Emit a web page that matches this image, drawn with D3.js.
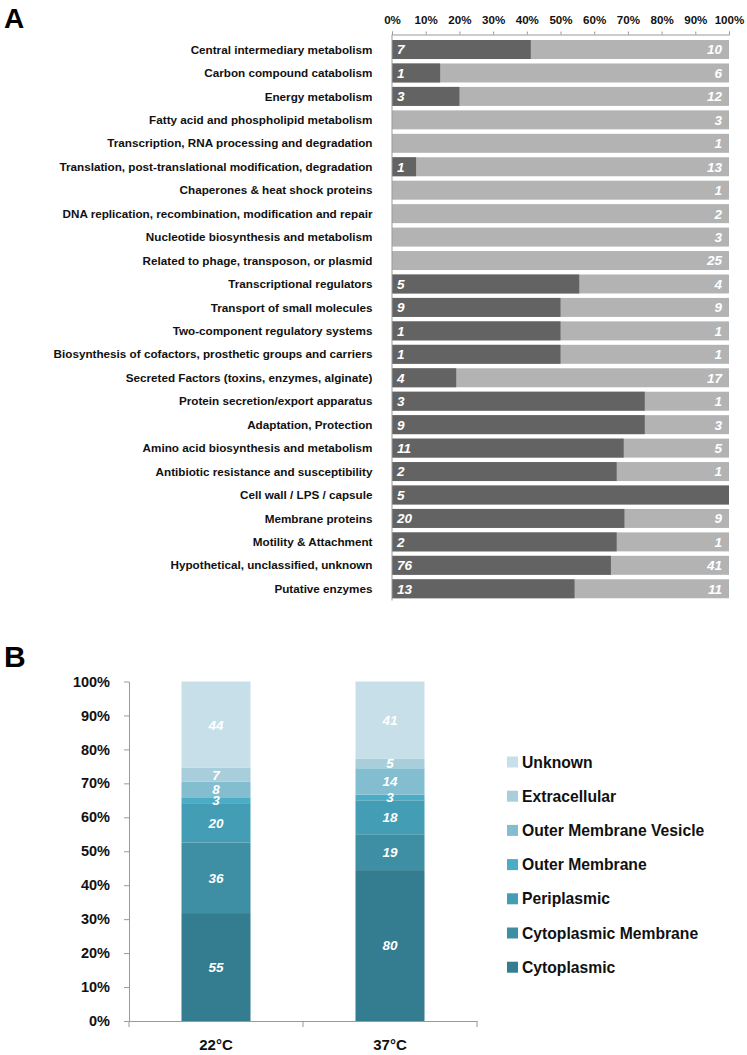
<!DOCTYPE html>
<html><head><meta charset="utf-8">
<script src="https://cdn.jsdelivr.net/npm/d3@7"></script>
<style>body{margin:0;background:#fff;} svg{display:block;font-family:Arial,"Liberation Sans",sans-serif;}</style>
</head><body>
<script>
// Panel A data
const categoriesA = ["Central intermediary metabolism","Carbon compound catabolism","Energy metabolism","Fatty acid and phospholipid metabolism","Transcription, RNA processing and degradation","Translation, post-translational modification, degradation","Chaperones & heat shock proteins","DNA replication, recombination, modification and repair","Nucleotide biosynthesis and metabolism","Related to phage, transposon, or plasmid","Transcriptional regulators","Transport of small molecules","Two-component regulatory systems","Biosynthesis of cofactors, prosthetic groups and carriers","Secreted Factors (toxins, enzymes, alginate)","Protein secretion/export apparatus","Adaptation, Protection","Amino acid biosynthesis and metabolism","Antibiotic resistance and susceptibility","Cell wall / LPS / capsule","Membrane proteins","Motility & Attachment","Hypothetical, unclassified, unknown","Putative enzymes"];
const darkCounts = [7,1,3,0,0,1,0,0,0,0,5,9,1,1,4,3,9,11,2,5,20,2,76,13];
const lightCounts = [10,6,12,3,1,13,1,2,3,25,4,9,1,1,17,1,3,5,1,0,9,1,41,11];
const ticksA = [0,0.1,0.2,0.3,0.4,0.5,0.6,0.7,0.8,0.9,1];

// Panel B data
const conditionsB = ["22°C","37°C"];
const locations = ["Cytoplasmic","Cytoplasmic Membrane","Periplasmic","Outer Membrane","Outer Membrane Vesicle","Extracellular","Unknown"];
const values22 = [55,36,20,3,8,7,44];
const values37 = [80,19,18,3,14,5,41];
const locColors = ["#347c8f","#3e8ea4","#439db4","#4aacc5","#82bdd0","#a8cedb","#c6dfe8"];
const ticksB = [0,0.1,0.2,0.3,0.4,0.5,0.6,0.7,0.8,0.9,1];

const svg = d3.select("body").append("svg").attr("width",747).attr("height",1055);

// ---------- Panel A ----------
svg.append("text").attr("x",4).attr("y",28).attr("font-size",28).attr("font-weight","bold").text("A");
const xA = d3.scaleLinear().domain([0,1]).range([392,729]);
const yA = d3.scaleBand().domain(categoriesA).range([37.8,600.5]).paddingInner(0.19).paddingOuter(0.095);
const rowsA = categoriesA.map((c,i)=>({c, d:darkCounts[i], l:lightCounts[i], t:darkCounts[i]+lightCounts[i]}));
const gA = svg.append("g");
gA.selectAll("rect.l").data(rowsA).join("rect").attr("class","l")
  .attr("x",xA(0)).attr("y",d=>yA(d.c)).attr("width",xA(1)-xA(0)).attr("height",yA.bandwidth()).attr("fill","#b3b3b3");
gA.selectAll("rect.d").data(rowsA).join("rect").attr("class","d")
  .attr("x",xA(0)).attr("y",d=>yA(d.c)).attr("width",d=>xA(d.d/d.t)-xA(0)).attr("height",yA.bandwidth()).attr("fill","#636363");
gA.selectAll("text.cat").data(rowsA).join("text").attr("class","cat")
  .attr("x",372.5).attr("y",d=>yA(d.c)+yA.bandwidth()/2).attr("dy","0.35em").attr("text-anchor","end")
  .attr("font-size",11.7).attr("font-weight","bold").attr("fill","#111").text(d=>d.c);
gA.selectAll("text.dv").data(rowsA.filter(d=>d.d>0)).join("text").attr("class","dv")
  .attr("x",xA(0)+5).attr("y",d=>yA(d.c)+yA.bandwidth()/2).attr("dy","0.36em")
  .attr("font-size",13.5).attr("font-weight","bold").attr("font-style","italic").attr("fill","#fff").text(d=>d.d);
gA.selectAll("text.lv").data(rowsA.filter(d=>d.l>0)).join("text").attr("class","lv")
  .attr("x",xA(1)-7).attr("y",d=>yA(d.c)+yA.bandwidth()/2).attr("dy","0.36em").attr("text-anchor","end")
  .attr("font-size",13.5).attr("font-weight","bold").attr("font-style","italic").attr("fill","#fff").text(d=>d.l);
// top axis
const axA = svg.append("g").attr("transform","translate(0,34.5)")
  .call(d3.axisTop(xA).tickValues(ticksA).tickFormat(d3.format(".0%")).tickSizeInner(3).tickSizeOuter(3).tickPadding(8));
axA.select(".domain").attr("stroke","#999");
axA.selectAll(".tick line").attr("stroke","#999");
axA.selectAll("text").attr("font-size",11.6).attr("font-weight","bold").attr("fill","#111").attr("font-family","Arial,'Liberation Sans',sans-serif");
svg.append("line").attr("x1",xA(0)).attr("x2",xA(0)).attr("y1",34.5).attr("y2",600.5).attr("stroke","#999");

// ---------- Panel B ----------
svg.append("text").attr("x",4).attr("y",667).attr("font-size",30).attr("font-weight","bold").text("B");
const xB = d3.scaleBand().domain(conditionsB).range([129,477]);
const yB = d3.scaleLinear().domain([0,1]).range([1021,681.5]);
const barW = 69;
const seriesB = [values22, values37];
conditionsB.forEach((cond,ci)=>{
  const vals = seriesB[ci];
  const total = d3.sum(vals);
  let cum = 0;
  const segs = vals.map((v,i)=>{const s={v,i,y0:cum/total,y1:(cum+v)/total}; cum+=v; return s;});
  const cx = xB(cond)+xB.bandwidth()/2;
  const g = svg.append("g");
  g.selectAll("rect").data(segs).join("rect")
    .attr("x",cx-barW/2).attr("width",barW)
    .attr("y",d=>yB(d.y1)).attr("height",d=>yB(d.y0)-yB(d.y1)).attr("fill",d=>locColors[d.i]);
  g.selectAll("text").data(segs).join("text")
    .attr("x",cx).attr("y",d=>yB((d.y0+d.y1)/2)).attr("dy","0.36em").attr("text-anchor","middle")
    .attr("font-size",13.5).attr("font-weight","bold").attr("font-style","italic").attr("fill","#fff").text(d=>d.v);
});
const ayB = svg.append("g").attr("transform","translate(129,0)")
  .call(d3.axisLeft(yB).tickValues(ticksB).tickFormat(d3.format(".0%")).tickSizeInner(5).tickSizeOuter(0).tickPadding(14));
ayB.select(".domain").attr("stroke","#999");
ayB.selectAll(".tick line").attr("stroke","#999");
ayB.selectAll("text").attr("font-size",14.5).attr("font-weight","bold").attr("fill","#111").attr("font-family","Arial,'Liberation Sans',sans-serif");
const axB = svg.append("g").attr("transform","translate(0,1021)")
  .call(d3.axisBottom(xB).tickSize(0).tickPadding(18));
axB.select(".domain").attr("stroke","#999");
axB.selectAll("text").attr("font-size",15).attr("font-weight","bold").attr("fill","#111").attr("font-family","Arial,'Liberation Sans',sans-serif");
// category separator ticks
svg.append("g").selectAll("line").data([xB.range()[0], xB(conditionsB[1]), xB.range()[1]]).join("line")
  .attr("x1",d=>d).attr("x2",d=>d).attr("y1",1021).attr("y2",1027).attr("stroke","#999");

// Legend
const legOrder = locations.map((l,i)=>i).reverse();
const leg = svg.append("g");
leg.selectAll("rect").data(legOrder).join("rect")
  .attr("x",507).attr("y",(d,k)=>762+k*34.2-5.5).attr("width",11).attr("height",11).attr("fill",d=>locColors[d]);
leg.selectAll("text").data(legOrder).join("text")
  .attr("x",522).attr("y",(d,k)=>762+k*34.2).attr("dy","0.36em")
  .attr("font-size",15.7).attr("font-weight","bold").attr("fill","#111").text(d=>locations[d]);
</script>
</body></html>
